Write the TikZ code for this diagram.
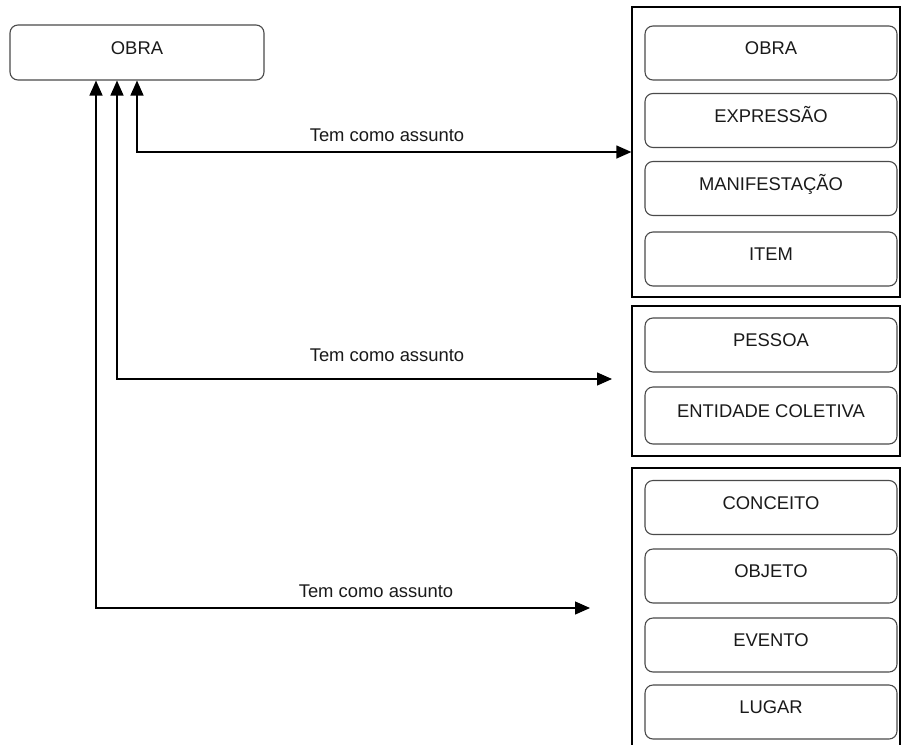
\documentclass[tikz,border=0pt]{standalone}
\usepackage{fontspec}
\setmainfont{Liberation Sans}
\usetikzlibrary{arrows.meta}
\definecolor{ink}{HTML}{1A1A1A}
\definecolor{edge}{HTML}{4A4A4A}
\begin{document}
\begin{tikzpicture}[x=1pt,y=-1pt,
  font=\fontsize{18.4}{20}\selectfont,
  entity/.style={draw=edge, line width=1.1pt, rounded corners=8pt, inner sep=0pt,
    minimum width=252pt, minimum height=54pt, text=ink,
    text height=13.3pt, text depth=10pt},
  group/.style={draw=black, line width=1.3pt, inner sep=0pt, minimum width=268pt},
  rel/.style={line width=1.3pt, {Triangle[length=15pt,width=13pt]}-{Triangle[length=15pt,width=13pt]}},
  tag/.style={anchor=base, text=ink, inner sep=0pt}]
\clip (0,0) rectangle (901,744);
\fill[white] (0,0) rectangle (901,744);

% source entity
\node[entity, minimum width=254pt, minimum height=55pt] (obra) at (137,52.5) {OBRA};

% target groups
\node[group, minimum height=290pt] (g1) at (766,152) {};
\node[group, minimum height=150pt] (g2) at (766,381) {};
\node[group, minimum height=292pt] (g3) at (766,614) {};

% group 1 members
\node[entity] (w1) at (771,53) {OBRA};
\node[entity] (w2) at (771,120.5) {EXPRESSÃO};
\node[entity] (w3) at (771,188.5) {MANIFESTAÇÃO};
\node[entity] (w4) at (771,259) {ITEM};

% group 2 members
\node[entity] (p1) at (771,345) {PESSOA};
\node[entity, minimum height=57pt] (p2) at (771,415.5) {ENTIDADE COLETIVA};

% group 3 members
\node[entity] (s1) at (771,507.5) {CONCEITO};
\node[entity] (s2) at (771,576) {OBJETO};
\node[entity] (s3) at (771,645) {EVENTO};
\node[entity] (s4) at (771,712) {LUGAR};

% relationships
\coordinate (t2) at (612,379);
\coordinate (t3) at (590,608);
\draw[rel] (obra.south) |- (g1.west);
\draw[rel] ([xshift=-20pt]obra.south) |- (t2);
\draw[rel] ([xshift=-41pt]obra.south) |- (t3);

\node[tag] (l1) at (387,141) {Tem como assunto};
\node[tag] (l2) at (387,361) {Tem como assunto};
\node[tag] (l3) at (376,597) {Tem como assunto};
\end{tikzpicture}
\end{document}
